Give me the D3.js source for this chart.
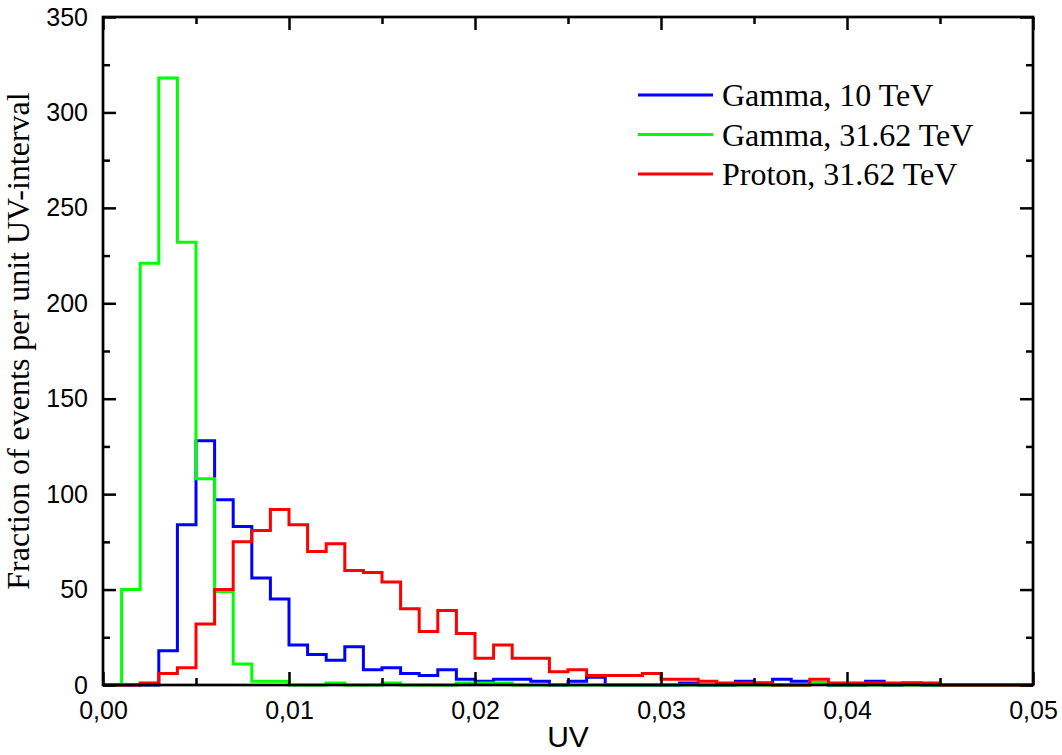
<!DOCTYPE html>
<html>
<head>
<meta charset="utf-8">
<script src="https://cdn.jsdelivr.net/npm/d3@7"></script>
<style>
body { margin: 0; background: #fff; }
.axis text { font-family: "Liberation Sans", Arial, sans-serif; font-size: 25px; fill: #000; }
.axis line { stroke: #000; stroke-width: 2.5; }
.axis path { display: none; }
</style>
</head>
<body>
<script>
var margin = {
	top: 17,
	right: 29,
	bottom: 70,
	left: 103
};

var width = 1062 - margin.left - margin.right,
	height = 755 - margin.top - margin.bottom;

// bin width 0.001, bins start at 0.000 ... 0.049
var binWidth = 0.001;
var binStarts = d3.range(50).map(function(i) { return +(i * binWidth).toFixed(3); });

var gamma10 = [0, 0, 0, 18, 84, 128, 97, 83, 56, 45,
	21, 16, 13, 20, 8, 9, 6, 5, 8, 3,
	2, 3, 3, 2, 0, 2, 4, 0, 0, 0,
	0, 1, 0, 0, 2, 1, 3, 2, 1, 0,
	0, 2, 0, 1, 0, 0, 0, 0, 0, 0];

var gamma3162 = [0, 50, 221, 318, 232, 108, 49, 11, 2, 2,
	0, 0, 1, 0, 0, 1, 0, 0, 0, 1,
	1, 1, 0, 0, 0, 0, 0, 0, 0, 0,
	0, 0, 0, 0, 0, 0, 0, 0, 1, 0,
	0, 0, 0, 0, 0, 0, 0, 0, 0, 0];

var proton3162 = [0, 0, 1, 6, 9, 32, 50, 75, 81, 92,
	84, 70, 74, 60, 59, 54, 40, 28, 39, 27,
	14, 21, 14, 14, 7, 8, 5, 5, 5, 6,
	3, 3, 2, 1, 1, 1, 0, 0, 3, 1,
	1, 1, 1, 1, 1, 0, 0, 0, 0, 0];

var seriesNames = ["Gamma, 10 TeV", "Gamma, 31.62 TeV", "Proton, 31.62 TeV"];
var seriesColors = ["#0000ff", "#00ff00", "#ff0000"];
var seriesValues = [gamma10, gamma3162, proton3162];

var xTicks = [0, 0.01, 0.02, 0.03, 0.04, 0.05];
var xMinorTicks = [0.005, 0.015, 0.025, 0.035, 0.045];
var yTicks = [0, 50, 100, 150, 200, 250, 300, 350];
var yMinorTicks = [25, 75, 125, 175, 225, 275, 325];

var svg = d3.select("body").append("svg")
	.attr("width", width + margin.left + margin.right)
	.attr("height", height + margin.top + margin.bottom)
	.append("g")
	.attr("transform", "translate(" + margin.left + "," + margin.top + ")");

var xScale = d3.scaleLinear()
	.range([0, width])
	.domain([0, 0.05]);

var yScale = d3.scaleLinear()
	.range([height, 0])
	.domain([0, 350]);

var xFormat = function(d) { return d3.format(".2f")(d).replace(".", ","); };

// histograms
var lineDraw = d3.line()
	.curve(d3.curveStepAfter)
	.x(function(d) { return xScale(d.x); })
	.y(function(d) { return yScale(d.y); });

for (var s = 0; s < seriesValues.length; s++) {
	var pts = binStarts.map(function(d, i) {
		return { x: d, y: seriesValues[s][i] };
	});
	pts.push({ x: 0.05, y: seriesValues[s][seriesValues[s].length - 1] });

	svg.append("path")
		.datum(pts)
		.attr("fill", "none")
		.attr("stroke", seriesColors[s])
		.attr("stroke-width", 3)
		.attr("stroke-linejoin", "miter")
		.attr("d", lineDraw);
}

// axes, ticks pointing inward
svg.append("g")
	.attr("class", "x axis")
	.attr("transform", "translate(0," + height + ")")
	.call(d3.axisBottom(xScale).tickValues(xTicks).tickSize(-13).tickPadding(16).tickFormat(xFormat));

svg.append("g")
	.attr("class", "x axis")
	.attr("transform", "translate(0," + height + ")")
	.call(d3.axisBottom(xScale).tickValues(xMinorTicks).tickSize(-7).tickFormat(""));

svg.append("g")
	.attr("class", "x axis")
	.call(d3.axisTop(xScale).tickValues(xTicks).tickSize(-13).tickFormat(""));

svg.append("g")
	.attr("class", "x axis")
	.call(d3.axisTop(xScale).tickValues(xMinorTicks).tickSize(-7).tickFormat(""));

svg.append("g")
	.attr("class", "y axis")
	.call(d3.axisLeft(yScale).tickValues(yTicks).tickSize(-13).tickPadding(15).tickFormat(d3.format("d")));

svg.append("g")
	.attr("class", "y axis")
	.call(d3.axisLeft(yScale).tickValues(yMinorTicks).tickSize(-7).tickFormat(""));

svg.append("g")
	.attr("class", "y axis")
	.attr("transform", "translate(" + width + ",0)")
	.call(d3.axisRight(yScale).tickValues(yTicks).tickSize(-13).tickFormat(""));

svg.append("g")
	.attr("class", "y axis")
	.attr("transform", "translate(" + width + ",0)")
	.call(d3.axisRight(yScale).tickValues(yMinorTicks).tickSize(-7).tickFormat(""));

// frame
svg.append("rect")
	.attr("x", 0)
	.attr("y", 0)
	.attr("width", width)
	.attr("height", height)
	.attr("fill", "none")
	.attr("stroke", "#000")
	.attr("stroke-width", 2.7);

// axis titles
svg.append("text")
	.attr("x", width / 2)
	.attr("y", height + 62)
	.attr("text-anchor", "middle")
	.style("font-family", "Liberation Sans, Arial, sans-serif")
	.style("font-size", "30px")
	.text("UV");

svg.append("text")
	.attr("transform", "translate(" + (-74) + "," + (341 - margin.top) + ") rotate(-90)")
	.attr("text-anchor", "middle")
	.style("font-family", "Liberation Serif, Times New Roman, serif")
	.style("font-size", "32px")
	.text("Fraction of events per unit UV-interval");

// legend
var legend = svg.selectAll(".legend")
	.data(seriesNames)
	.enter().append("g")
	.attr("class", "legend")
	.attr("transform", function(d, i) {
		return "translate(" + (638 - margin.left) + "," + (95 - margin.top + i * 39.5) + ")";
	});

legend.append("line")
	.attr("x1", 0)
	.attr("x2", 75)
	.attr("y1", 0)
	.attr("y2", 0)
	.attr("stroke", function(d, i) { return seriesColors[i]; })
	.attr("stroke-width", 3);

legend.append("text")
	.attr("x", 84)
	.attr("y", 11)
	.style("font-family", "Liberation Serif, Times New Roman, serif")
	.style("font-size", "32px")
	.text(function(d) { return d; });
</script>
</body>
</html>
